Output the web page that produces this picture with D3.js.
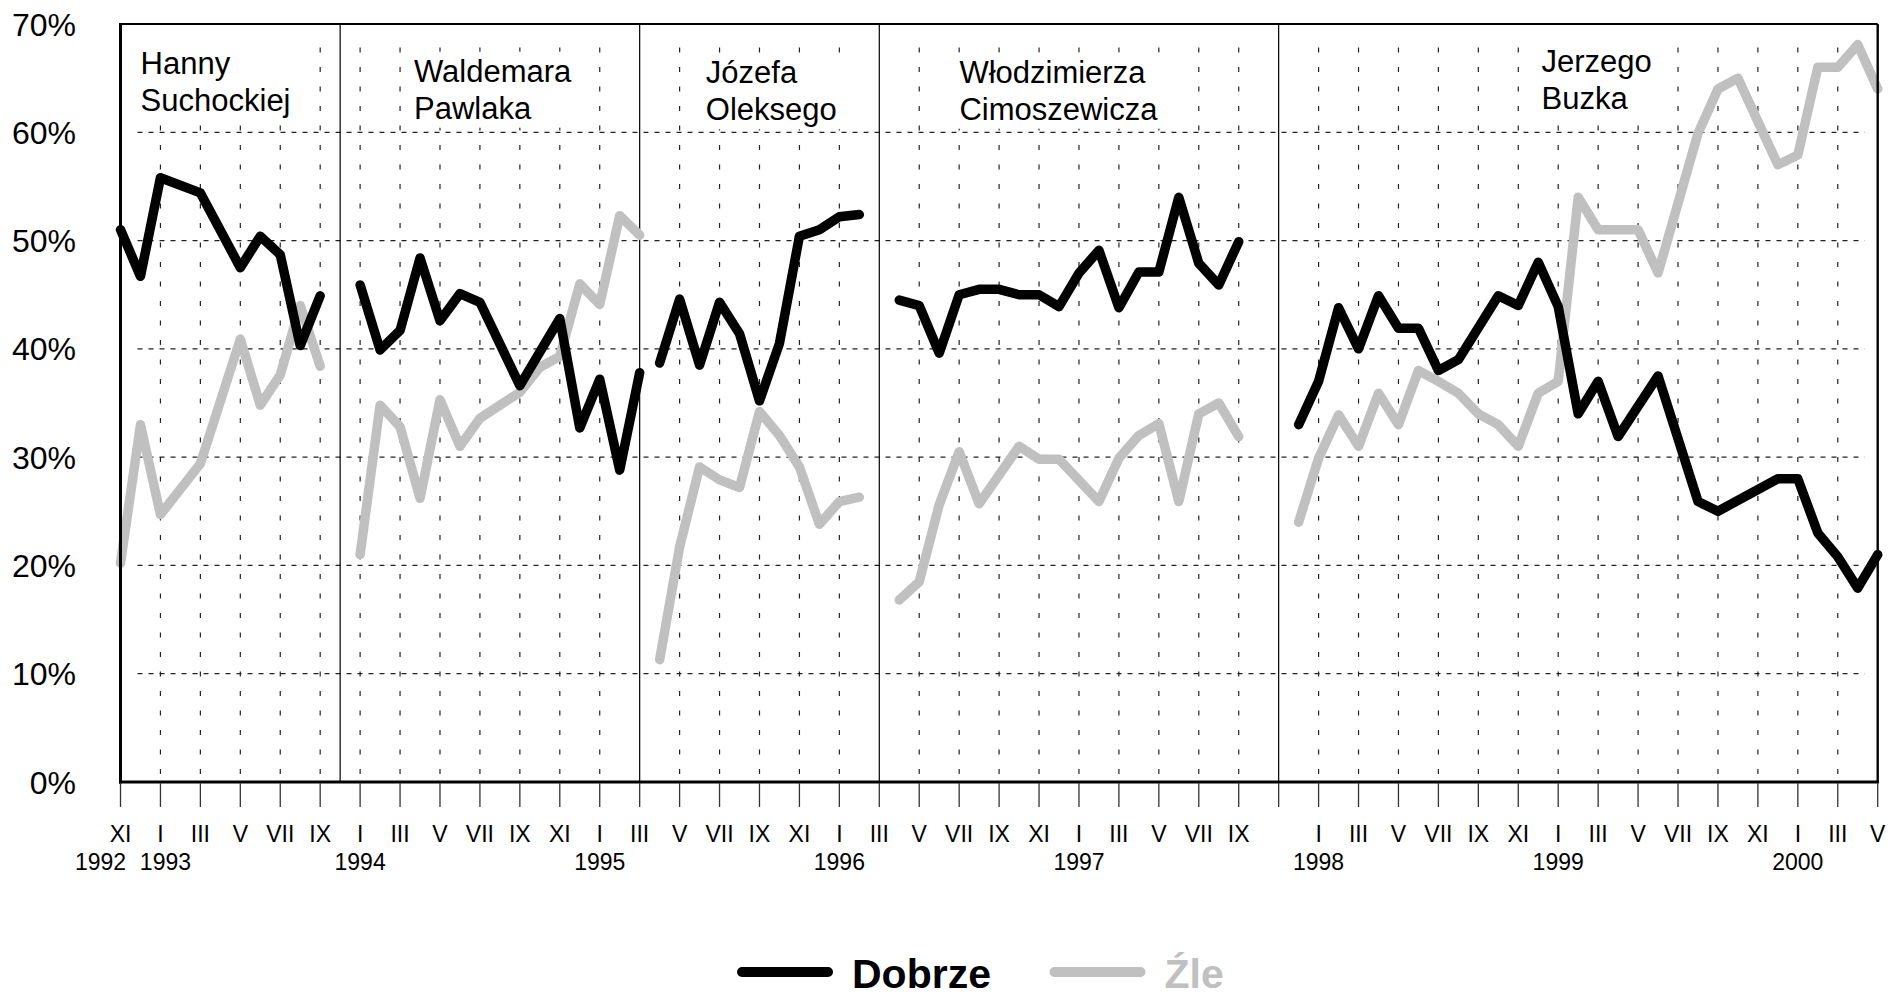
<!DOCTYPE html>
<html>
<head>
<meta charset="utf-8">
<title>Dobrze / Źle</title>
<script src="https://cdnjs.cloudflare.com/ajax/libs/d3/7.8.5/d3.min.js"></script>
<style>
  body { margin: 0; background: #fff; }
  text { font-family: "Liberation Sans", Arial, sans-serif; }
</style>
</head>
<body>
<div id="chart"></div>
<script>
// months are category slots 0..88 (XI 1992 .. V 2000), labels every 2nd slot
var monthLabels = ["XI","I","III","V","VII","IX","I","III","V","VII","IX","XI","I","III","V","VII","IX","XI",
  "I","III","V","VII","IX","XI","I","III","V","VII","IX","","I","III","V","VII","IX","XI",
  "I","III","V","VII","IX","XI","I","III","V"];
var years = ["1992","1993","1994","1995","1996","1997","1998","1999","2000"];
var yearSlots = [0, 2, 12, 24, 36, 48, 60, 72, 84];

// change of government between these slots
var dividers = [11, 26, 38, 58];
var governments = [["Hanny","Suchockiej"],["Waldemara","Pawlaka"],["Józefa","Oleksego"],
  ["Włodzimierza","Cimoszewicza"],["Jerzego","Buzka"]];

var yTicks = [0, 10, 20, 30, 40, 50, 60, 70];

// [slot, percent]
var dobrze = [
  [0,51.0],[1,46.7],[2,55.8],[4,54.4],[6,47.5],[7,50.4],[8,48.7],[9,40.3],[10,44.9],
  [12,45.9],[13,39.9],[14,41.7],[15,48.4],[16,42.6],[17,45.1],[18,44.3],[20,36.6],[22,42.8],
  [23,32.7],[24,37.2],[25,28.8],[26,37.8],
  [27,38.7],[28,44.6],[29,38.5],[30,44.3],[31,41.4],[32,35.2],[33,40.5],[34,50.4],[35,51.0],
  [36,52.2],[37,52.4],
  [39,44.5],[40,44.0],[41,39.6],[42,45.0],[43,45.5],[44,45.5],[45,45.0],[46,45.0],[47,43.9],
  [48,47.0],[49,49.1],[50,43.8],[51,47.1],[52,47.1],[53,54.0],[54,47.9],[55,45.9],[56,49.9],
  [59,33.0],[60,37.0],[61,43.8],[62,40.0],[63,44.9],[64,41.9],[65,41.9],[66,38.0],[67,39.0],
  [69,44.9],[70,44.0],[71,48.0],[72,43.9],[73,34.0],[74,37.0],[75,31.9],[77,37.5],[79,25.9],
  [80,25.0],[83,28.0],[84,28.0],[85,23.0],[86,20.8],[87,17.9],[88,21.0]
];
var zle = [
  [0,20.2],[1,33.0],[2,24.7],[4,29.4],[6,40.9],[7,34.8],[8,37.6],[9,44.0],[10,38.4],
  [12,21.0],[13,34.8],[14,32.8],[15,26.2],[16,35.3],[17,31.0],[18,33.6],[20,36.0],[21,38.3],
  [22,39.3],[23,46.0],[24,44.1],[25,52.3],[26,50.5],
  [27,11.3],[28,21.7],[29,29.1],[30,27.9],[31,27.2],[32,34.2],[33,32.0],[34,29.1],[35,23.8],
  [36,25.9],[37,26.3],
  [39,16.8],[40,18.5],[41,25.6],[42,30.5],[43,25.7],[45,31.0],[46,29.8],[47,29.8],[49,25.9],
  [50,29.9],[51,32.0],[52,33.1],[53,25.9],[54,34.0],[55,35.0],[56,31.9],
  [59,24.0],[60,29.9],[61,33.9],[62,31.0],[63,35.9],[64,33.0],[65,38.0],[66,37.0],[67,35.9],
  [68,34.0],[69,33.0],[70,31.0],[71,35.9],[72,37.0],[73,54.0],[74,51.0],[76,51.0],[77,47.0],
  [79,59.9],[80,64.0],[81,65.0],[83,57.0],[84,57.9],[85,66.0],[86,66.0],[87,68.1],[88,64.0]
];

var W = 1901, H = 992;
var pLeft = 120.5, pRight = 1877.7, pTop = 24, pBottom = 782;

var svg = d3.select("#chart").append("svg")
    .attr("width", W).attr("height", H);

var x = d3.scaleLinear().domain([0, 88]).range([pLeft, pRight]);
var y = d3.scaleLinear().domain([0, 70]).range([pBottom, pTop]);

// horizontal dashed grid
svg.append("g").selectAll("line")
    .data(yTicks.filter(function(d) { return d > 0 && d < 70; }))
    .join("line")
    .attr("x1", pLeft + 17).attr("x2", pRight - 13)
    .attr("y1", function(d) { return y(d); }).attr("y2", function(d) { return y(d); })
    .style("stroke", "#222").style("stroke-width", 1.2)
    .style("stroke-dasharray", "5,6");

// vertical dotted grid on the even slots
var evenSlots = d3.range(0, 89, 2);
svg.append("g").selectAll("line")
    .data(evenSlots.filter(function(s) { return s > 0 && s < 88 && dividers.indexOf(s) < 0; }))
    .join("line")
    .attr("x1", function(s) { return x(s); }).attr("x2", function(s) { return x(s); })
    .attr("y1", pBottom - 8).attr("y2", pTop + 12)
    .style("stroke", "#222").style("stroke-width", 1.2)
    .style("stroke-dasharray", "5,14.5");

// government dividers
svg.append("g").selectAll("line")
    .data(dividers)
    .join("line")
    .attr("x1", function(s) { return x(s); }).attr("x2", function(s) { return x(s); })
    .attr("y1", pTop).attr("y2", pBottom)
    .style("stroke", "#000").style("stroke-width", 1.2);

// names of prime ministers, on white boxes that hide the grid
var namePos = [[140.6, 74], [414, 81.7], [705.8, 83.3], [959.4, 82.7], [1541.5, 71.7]];
var names = svg.append("g");
governments.forEach(function(g, i) {
    var grp = names.append("g");
    var bg = grp.append("rect").style("fill", "#fff");
    var t = grp.append("text")
        .attr("x", namePos[i][0]).attr("y", namePos[i][1])
        .style("font-size", "31px").style("fill", "#000");
    t.selectAll("tspan").data(g).join("tspan")
        .attr("x", namePos[i][0])
        .attr("dy", function(d, k) { return k ? 37 : 0; })
        .text(function(d) { return d; });
    var bb = t.node().getBBox();
    bg.attr("x", bb.x - 4).attr("y", bb.y - 2)
      .attr("width", bb.width + 8).attr("height", bb.height + 4);
});

// series, broken at each change of government
function segments(data) {
    var out = [];
    data.forEach(function(p) {
        var k = dividers.filter(function(dv) { return dv < p[0]; }).length;
        if (!out[k]) out[k] = [];
        out[k].push(p);
    });
    return out.filter(Boolean);
}
var line = d3.line()
    .x(function(p) { return x(p[0]); })
    .y(function(p) { return y(p[1]); });

[[zle, "#c0c0c0"], [dobrze, "#000"]].forEach(function(s) {
    svg.append("g").selectAll("path")
        .data(segments(s[0]))
        .join("path")
        .attr("d", line)
        .style("fill", "none")
        .style("stroke", s[1])
        .style("stroke-width", 9.5)
        .style("stroke-linejoin", "round")
        .style("stroke-linecap", "round");
});

// frame
svg.append("line").attr("x1", pLeft).attr("x2", pRight).attr("y1", pTop).attr("y2", pTop)
    .style("stroke", "#000").style("stroke-width", 2.2);
svg.append("line").attr("x1", pRight).attr("x2", pRight).attr("y1", pTop).attr("y2", pBottom)
    .style("stroke", "#000").style("stroke-width", 2.4);
svg.append("line").attr("x1", pLeft).attr("x2", pLeft).attr("y1", pTop - 1).attr("y2", pBottom + 1.5)
    .style("stroke", "#000").style("stroke-width", 3);
svg.append("line").attr("x1", pLeft - 1.5).attr("x2", pRight + 1.2).attr("y1", pBottom).attr("y2", pBottom)
    .style("stroke", "#000").style("stroke-width", 3);

// y labels
svg.append("g").selectAll("text")
    .data(yTicks)
    .join("text")
    .attr("x", 76).attr("y", function(d) { return y(d) + 11.5; })
    .attr("text-anchor", "end")
    .style("font-size", "32px")
    .text(function(d) { return d + "%"; });

// x ticks and month labels
svg.append("g").selectAll("line")
    .data(evenSlots)
    .join("line")
    .attr("x1", function(s) { return x(s); }).attr("x2", function(s) { return x(s); })
    .attr("y1", pBottom + 1).attr("y2", pBottom + 25)
    .style("stroke", "#333").style("stroke-width", 1.3);

svg.append("g").selectAll("text")
    .data(monthLabels)
    .join("text")
    .attr("x", function(d, k) { return x(k * 2); })
    .attr("y", 842)
    .attr("text-anchor", "middle")
    .style("font-size", "23px")
    .text(function(d) { return d; });

svg.append("g").selectAll("text")
    .data(years)
    .join("text")
    .attr("x", function(d, k) { return x(yearSlots[k]) + (k === 0 ? -20 : k === 1 ? 5 : 0); })
    .attr("y", 870)
    .attr("text-anchor", "middle")
    .style("font-size", "23px")
    .text(function(d) { return d; });

// legend
var legend = [["Dobrze", "#000", 742], ["Źle", "#c0c0c0", 1054.5]];
legend.forEach(function(l) {
    svg.append("line")
        .attr("x1", l[2]).attr("x2", l[2] + 86)
        .attr("y1", 972).attr("y2", 972)
        .style("stroke", l[1]).style("stroke-width", 10)
        .style("stroke-linecap", "round");
    svg.append("text")
        .attr("x", l[2] + 110).attr("y", 988)
        .style("font-size", "41px").style("font-weight", "bold")
        .style("fill", l[1])
        .text(l[0]);
});
</script>
</body>
</html>
